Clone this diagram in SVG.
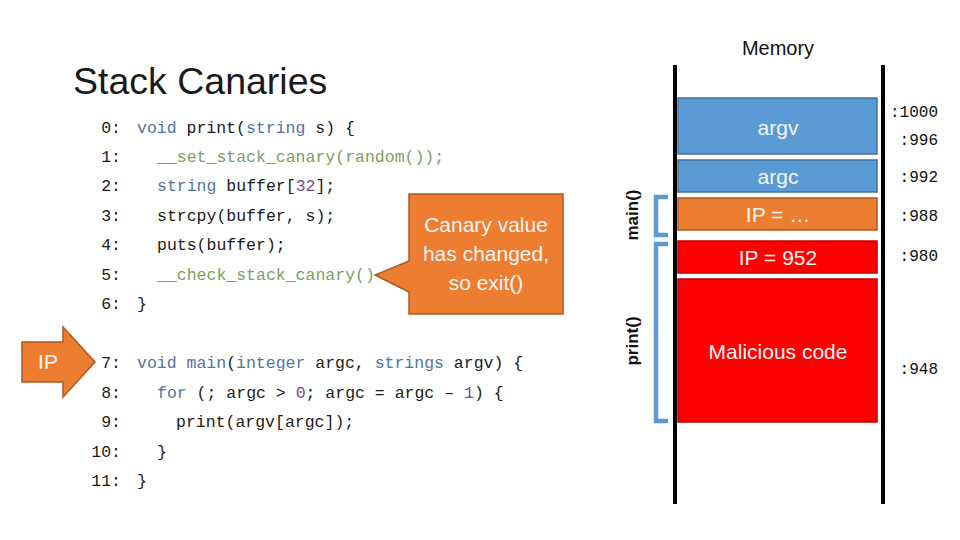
<svg xmlns="http://www.w3.org/2000/svg" width="960" height="540" viewBox="0 0 960 540">
<style>
.code{font-family:"Liberation Mono","DejaVu Sans Mono",monospace;font-size:16.5px;fill:#1a1a1a;white-space:pre}
.ln{text-anchor:end}
.kw{fill:#52739e}
.fn{fill:#78a060}
.num{fill:#7a4a8a}
.addr{font-family:"Liberation Mono","DejaVu Sans Mono",monospace;font-size:16px;fill:#111;text-anchor:end}
.lbl{font-family:"Liberation Sans",Arial,sans-serif;font-size:21px;fill:#f4f4f4;text-anchor:middle}
.blue{fill:#5b9bd5;stroke:#41719c;stroke-width:1.5}
.orange{fill:#ed7d31;stroke:#ae5a21;stroke-width:1.5}
.red{fill:#ff0000;stroke:#c00000;stroke-width:1.5}
.wall{stroke:#000;stroke-width:4}
.brk{fill:none;stroke:#5b9bd5;stroke-width:4.5}
.side{font-family:"Liberation Sans",Arial,sans-serif;font-size:17px;font-weight:bold;fill:#111;text-anchor:middle}
</style>
<rect width="960" height="540" fill="#fff"/>
<text x="73" y="94" font-family="Liberation Sans,Arial,sans-serif" font-size="37.5" fill="#1a1a1a">Stack Canaries</text>
<text x="778" y="55" font-family="Liberation Sans,Arial,sans-serif" font-size="20" fill="#111" text-anchor="middle">Memory</text>

<g id="code">
<text class="code ln" x="121" y="133">0:</text>
<text class="code" x="137" y="133"><tspan class="kw">void</tspan> print(<tspan class="kw">string</tspan> s) {</text>
<text class="code ln" x="121" y="162">1:</text>
<text class="code fn" x="157" y="162">__set_stack_canary(random());</text>
<text class="code ln" x="121" y="191">2:</text>
<text class="code" x="157" y="191"><tspan class="kw">string</tspan> buffer[<tspan class="num">32</tspan>];</text>
<text class="code ln" x="121" y="221">3:</text>
<text class="code" x="157" y="221">strcpy(buffer, s);</text>
<text class="code ln" x="121" y="250">4:</text>
<text class="code" x="157" y="250">puts(buffer);</text>
<text class="code ln" x="121" y="280">5:</text>
<text class="code fn" x="157" y="280">__check_stack_canary()</text>
<text class="code ln" x="121" y="309">6:</text>
<text class="code" x="137" y="309">}</text>
<text class="code ln" x="121" y="368">7:</text>
<text class="code" x="137" y="368"><tspan class="kw">void main</tspan>(<tspan class="kw">integer</tspan> argc, <tspan class="kw">strings</tspan> argv) {</text>
<text class="code ln" x="121" y="398">8:</text>
<text class="code" x="157" y="398"><tspan class="kw">for</tspan> (; argc &gt; <tspan class="num">0</tspan>; argc = argc – <tspan class="num">1</tspan>) {</text>
<text class="code ln" x="121" y="427">9:</text>
<text class="code" x="176" y="427">print(argv[argc]);</text>
<text class="code ln" x="121" y="457">10:</text>
<text class="code" x="157" y="457">}</text>
<text class="code ln" x="121" y="486">11:</text>
<text class="code" x="137" y="486">}</text>
</g>

<g id="ip-arrow">
<path d="M22,342 H63 V327 L95,362 L63,397 V382 H22 Z" fill="#ed7d31" stroke="#ae5a21" stroke-width="1.5"/>
<text class="lbl" x="48" y="369">IP</text>
</g>

<g id="callout">
<path d="M409,194 H563 V314 H409 V292 L375,275 L409,261 Z" fill="#ed7d31" stroke="#ae5a21" stroke-width="1.5"/>
<text class="lbl" x="486" y="232">Canary value</text>
<text class="lbl" x="486" y="261">has changed,</text>
<text class="lbl" x="486" y="290">so exit()</text>
</g>

<g id="memory-walls">
<line class="wall" x1="675" y1="65" x2="675" y2="504"/>
<line class="wall" x1="883" y1="65" x2="883" y2="504"/>
</g>

<g id="argv"><rect class="blue" x="678" y="98" width="199" height="56"/><text class="lbl" x="778" y="135">argv</text></g>
<g id="argc"><rect class="blue" x="678" y="160" width="199" height="32"/><text class="lbl" x="778" y="184">argc</text></g>
<g id="ip-ret"><rect class="orange" x="678" y="198" width="199" height="32"/><text class="lbl" x="778" y="222">IP = …</text></g>
<g id="ip-952"><rect class="red" x="678" y="241" width="199" height="32"/><text class="lbl" x="778" y="265">IP = 952</text></g>
<g id="malicious"><rect class="red" x="678" y="279" width="199" height="143"/><text class="lbl" x="778" y="359">Malicious code</text></g>

<g id="addresses">
<text class="addr" x="938" y="117">:1000</text>
<text class="addr" x="938" y="145">:996</text>
<text class="addr" x="938" y="182">:992</text>
<text class="addr" x="938" y="221">:988</text>
<text class="addr" x="938" y="261">:980</text>
<text class="addr" x="938" y="374">:948</text>
</g>

<g id="brackets">
<path class="brk" d="M668,197 H656 V235 H668"/>
<path class="brk" d="M668,244 H656 V421 H668"/>
<text class="side" transform="translate(638,215) rotate(-90)">main()</text>
<text class="side" transform="translate(638,341) rotate(-90)">print()</text>
</g>
</svg>
